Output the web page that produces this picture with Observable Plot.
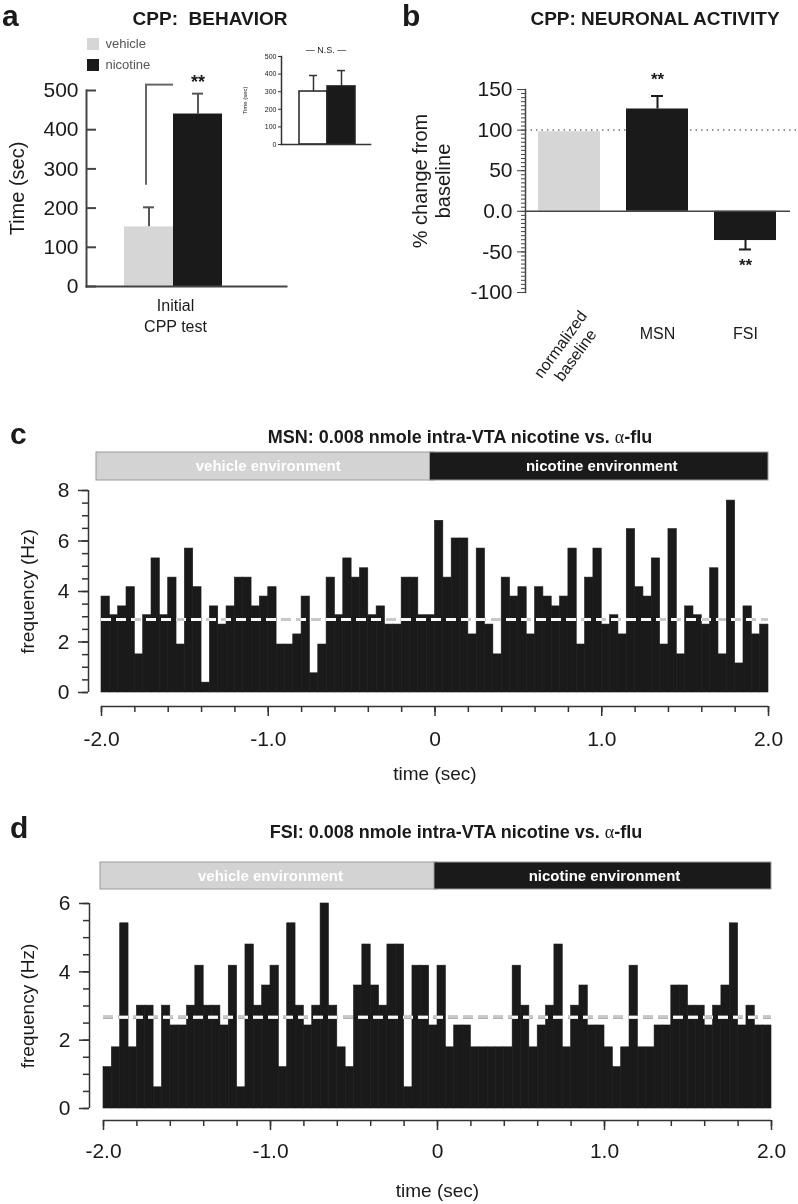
<!DOCTYPE html>
<html><head><meta charset="utf-8">
<script src="https://cdn.jsdelivr.net/npm/d3@7"></script>
<script src="https://cdn.jsdelivr.net/npm/@observablehq/plot@0.6"></script>
<style>
body{margin:0;background:#fff;}
#fig{position:relative;width:798px;height:1204px;overflow:hidden;font-family:"Liberation Sans",Arial,Helvetica,sans-serif;color:#1a1a1a;}
.lbl{position:absolute;white-space:nowrap;line-height:1.2;}
</style></head><body><div id="fig"></div>
<script>
// ---------- data ----------
const cppGroups = ["vehicle", "nicotine"];
const cppColors = ["#d6d6d6", "#1a1a1a"];
const cppMean = [152, 440];
const cppSem = [50, 52];
const cppTicks = [0, 100, 200, 300, 400, 500];
const bracketY = [258, 515];
const insetMean = [301, 330];
const insetSem = [91, 90];
const insetColors = ["#ffffff", "#1a1a1a"];
const insetTicks = [0, 100, 200, 300, 400, 500];

const cells = ["normalized baseline", "MSN", "FSI"];
const cellColors = ["#d6d6d6", "#1a1a1a", "#1a1a1a"];
const activityMean = [98, 126, -36];
const activityErr = [0, 16, 11];
const activitySig = ["", "**", "**"];
const activityTicks = [-100, -50, 0, 50, 100, 150];

const timeDomain = [-2, 2];
const binSize = 0.05;
const timeTicks = [-2, -1, 0, 1, 2];
const envLabels = ["vehicle environment", "nicotine environment"];
const envStart = [-2, 0];
const envEnd = [0, 2];
const envColors = ["#d3d3d3", "#1a1a1a"];

const msnRate = [
  3.80, 3.06, 3.41, 4.17, 1.51, 3.06, 5.31, 3.06, 4.55, 1.90,
  5.70, 4.17, 0.39, 3.41, 2.69, 3.41, 4.55, 4.55, 3.41, 3.80,
  4.17, 1.90, 1.90, 2.30, 3.80, 0.76, 1.90, 4.55, 3.06, 5.31,
  4.55, 4.92, 3.06, 3.41, 2.69, 2.69, 4.55, 4.55, 3.06, 3.06,
  6.80, 4.55, 6.10, 6.10, 2.30, 5.70, 2.69, 1.51, 4.55, 3.80,
  4.17, 2.30, 4.17, 3.80, 3.41, 3.80, 5.70, 1.90, 4.55, 5.70,
  2.69, 3.06, 2.30, 6.47, 4.17, 3.80, 5.31, 1.90, 6.47, 1.51,
  3.41, 3.06, 2.69, 4.92, 1.51, 7.60, 1.15, 3.41, 2.30, 2.69
];
const msnBaseline = 2.89;
const msnYTicks = [0, 2, 4, 6, 8];

const fsiRate = [
  1.21, 1.79, 5.42, 1.79, 3.01, 3.01, 0.62, 3.01, 2.43, 2.43,
  3.01, 4.18, 3.01, 3.01, 2.43, 4.18, 0.62, 4.80, 3.01, 3.60,
  4.18, 1.21, 5.42, 3.01, 2.43, 3.01, 6.00, 3.01, 1.79, 1.21,
  3.60, 4.80, 3.60, 3.01, 4.80, 4.80, 0.62, 4.18, 4.18, 2.43,
  4.18, 1.79, 2.43, 2.43, 1.79, 1.79, 1.79, 1.79, 1.79, 4.18,
  3.01, 1.79, 2.43, 3.01, 4.80, 1.79, 3.01, 3.60, 2.43, 2.43,
  1.79, 1.21, 1.79, 4.18, 1.79, 1.79, 2.43, 2.43, 3.60, 3.60,
  3.01, 3.01, 2.43, 3.01, 3.60, 5.42, 2.43, 3.01, 2.43, 2.43
];
const fsiBaseline = 2.67;
const fsiYTicks = [0, 2, 4, 6];

// ---------- helpers ----------
const FONT = '"Liberation Sans", Arial, Helvetica, sans-serif';
const fig = document.getElementById("fig");
const baseStyle = {fontFamily: FONT, fontSize: "20px", color: "#1a1a1a", background: "none", overflow: "visible"};
const mid = {textAnchor: "middle", lineAnchor: "middle"};
function put(node, left, top) {
  node.style.position = "absolute";
  node.style.left = left + "px";
  node.style.top = top + "px";
  fig.appendChild(node);
  return node;
}
function text(html, left, top, css, center) {
  const d = document.createElement("div");
  d.className = "lbl";
  d.innerHTML = html;
  Object.assign(d.style, css || {});
  d.style.left = left + "px";
  d.style.top = top + "px";
  if (center) d.style.transform = "translate(-50%,-50%)";
  fig.appendChild(d);
  return d;
}

// ---------- panel letters & titles ----------
const letterCss = {fontSize: "30px", fontWeight: "bold", lineHeight: "30px"};
text("a", 2, 1, letterCss);
text("b", 402, 1, letterCss);
text("c", 10, 419, letterCss);
text("d", 10, 813, letterCss);
const titleCss = {fontSize: "19px", fontWeight: "bold"};
text("CPP:&nbsp; BEHAVIOR", 210, 19, titleCss, true);
text("CPP: NEURONAL ACTIVITY", 655, 19, titleCss, true);
const alpha = '<span style="font-family:\'Liberation Serif\',serif;font-weight:normal">α</span>';
text("MSN: 0.008 nmole intra-VTA nicotine vs. " + alpha + "-flu", 460, 438, {fontSize: "18px", fontWeight: "bold"}, true);
text("FSI: 0.008 nmole intra-VTA nicotine vs. " + alpha + "-flu", 456, 833, {fontSize: "18px", fontWeight: "bold"}, true);

// ---------- panel a ----------
const aRows = cppGroups.map((g, i) => ({group: g, mean: cppMean[i], end: cppMean[i] + cppSem[i]}));
put(Plot.plot({
  width: 400, height: 340, marginLeft: 86, marginRight: 114, marginTop: 90, marginBottom: 54,
  style: baseStyle,
  x: {type: "band", domain: cppGroups, range: [124, 222], padding: 0, axis: null, label: null},
  y: {domain: [0, 500], axis: null, label: null},
  color: {domain: cppGroups, range: cppColors},
  marks: [
    Plot.ruleX(aRows, {x: "group", y1: "mean", y2: "end", stroke: "#555", strokeWidth: 2}),
    Plot.tickY(aRows, {x: "group", y: "end", stroke: "#555", strokeWidth: 2, inset: 19}),
    Plot.barY(aRows, {x: "group", y: "mean", fill: "group"}),
    Plot.ruleX([cppGroups[0]], {x: d => d, y1: bracketY[0], y2: bracketY[1], dx: -3, stroke: "#666", strokeWidth: 2}),
    Plot.ruleY([bracketY[1]], {x1: () => cppGroups[0], x2: () => cppGroups[0], dx: -3, insetLeft: 24, insetRight: -3, stroke: "#666", strokeWidth: 2}),
    Plot.text(aRows.slice(1), {x: "group", y: d => d.end + 30, text: () => "**", fontSize: 18, fontWeight: "bold"}),
    Plot.frame({anchor: "left", stroke: "#444", strokeWidth: 2}),
    Plot.frame({anchor: "bottom", stroke: "#444", strokeWidth: 2}),
    Plot.axisY(cppTicks, {label: null, tickSize: -10, tickPadding: 18, fontSize: 21, stroke: "#444", strokeWidth: 2}),
    Plot.text(["Time (sec)"], {...mid, frameAnchor: "left", rotate: -90, dx: -69, fontSize: 20}),
    Plot.text(["Initial\nCPP test"], {...mid, frameAnchor: "bottom", dx: -11, dy: 28, lineHeight: 1.35, fontSize: 16})
  ]
}), 0, 0);

// legend
const leg = Plot.legend({color: {type: "ordinal", domain: cppGroups, range: cppColors}, columns: 1, swatchSize: 12});
leg.style.fontSize = "13px";
leg.style.fontFamily = FONT;
leg.style.color = "#555";
leg.style.lineHeight = "20px";
leg.style.margin = "0";
put(leg, 87, 34);

// inset
const insetRows = cppGroups.map((g, i) => ({group: g, mean: insetMean[i], end: insetMean[i] + insetSem[i], fill: insetColors[i]}));
put(Plot.plot({
  width: 170, height: 120, marginLeft: 51, marginRight: 30, marginTop: 16, marginBottom: 16,
  style: {...baseStyle, fontSize: "7px"},
  x: {type: "band", domain: cppGroups, range: [68, 125], padding: 0, axis: null, label: null},
  y: {domain: [0, 500], axis: null, label: null},
  color: {type: "identity"},
  marks: [
    Plot.ruleX(insetRows, {x: "group", y1: "mean", y2: "end", stroke: "#333", strokeWidth: 1.5}),
    Plot.tickY(insetRows, {x: "group", y: "end", stroke: "#333", strokeWidth: 1.5, inset: 10}),
    Plot.barY(insetRows, {x: "group", y: "mean", fill: "fill", stroke: "#222", strokeWidth: 1.5}),
    Plot.frame({anchor: "left", stroke: "#333", strokeWidth: 1.5}),
    Plot.frame({anchor: "bottom", stroke: "#333", strokeWidth: 1.5}),
    Plot.axisY(insetTicks, {label: null, tickSize: 3, tickPadding: 2, fontSize: 7, stroke: "#333"}),
    Plot.text(["Time (sec)"], {...mid, frameAnchor: "left", rotate: -90, dx: -36, fontSize: 6}),
    Plot.text(["— N.S. —"], {...mid, frameAnchor: "top", dy: -6, fontSize: 9})
  ]
}), 230, 40);

// ---------- panel b ----------
const bRows = cells.map((c, i) => ({cell: c, mean: activityMean[i], end: activityMean[i] + Math.sign(activityMean[i]) * activityErr[i], sig: activitySig[i]}));
const bErr = bRows.filter((d, i) => activityErr[i] > 0);
put(Plot.plot({
  width: 398, height: 400, marginLeft: 125, marginRight: 8, marginTop: 89, marginBottom: 108,
  style: baseStyle,
  x: {type: "band", domain: cells, range: [138, 376], paddingInner: 0.3, paddingOuter: 0, axis: null, label: null},
  y: {domain: [-100, 150], axis: null, label: null},
  color: {domain: cells, range: cellColors},
  marks: [
    Plot.ruleY([100], {stroke: "#777", strokeWidth: 1.5, strokeDasharray: "1.5,4", insetRight: -8}),
    Plot.ruleX(bErr, {x: "cell", y1: "mean", y2: "end", stroke: "#1a1a1a", strokeWidth: 2}),
    Plot.tickY(bErr, {x: "cell", y: "end", stroke: "#1a1a1a", strokeWidth: 2, inset: 25}),
    Plot.barY(bRows, {x: "cell", y: "mean", fill: "cell"}),
    Plot.ruleY([0], {stroke: "#444", strokeWidth: 1.5}),
    Plot.text(bErr, {x: "cell", y: d => d.end + Math.sign(d.mean) * 20, text: "sig", fontSize: 17, fontWeight: "bold"}),
    Plot.frame({anchor: "left", stroke: "#444", strokeWidth: 1.5}),
    Plot.axisY(d3.ticks(-100, 150, 50), {label: null, tickSize: 4, tickFormat: () => "", stroke: "#444"}),
    Plot.axisY(activityTicks, {label: null, tickSize: 8, tickPadding: 5, fontSize: 21, stroke: "#444", tickFormat: d => d === 0 ? "0.0" : String(d)}),
    Plot.text(["% change from\nbaseline"], {...mid, frameAnchor: "left", rotate: -90, dx: -94, dy: -10, lineHeight: 1.15, fontSize: 20}),
    Plot.text(cells.slice(1), {...mid, x: d => d, frameAnchor: "bottom", dy: 41, fontSize: 16}),
    Plot.text(cells.slice(0, 1), {...mid, x: d => d, text: () => "normalized\nbaseline", frameAnchor: "bottom", rotate: -54, dx: -2, dy: 57, lineHeight: 1.15, fontSize: 16})
  ]
}), 400, 0);

// ---------- panels c & d ----------
const envRows = envLabels.map((l, i) => ({label: l, start: envStart[i], end: envEnd[i], fill: envColors[i]}));
function stripPlot(ml, mr, h, insetL) {
  return Plot.plot({
    width: 798, height: h, marginLeft: ml, marginRight: mr, marginTop: 0, marginBottom: 0,
    style: baseStyle,
    x: {domain: timeDomain, axis: null, label: null},
    color: {type: "identity"},
    marks: [
      Plot.rect(envRows, {x1: "start", x2: "end", fill: "fill", stroke: "#9a9a9a", strokeWidth: 1, insetLeft: insetL}),
      Plot.text(envRows, {...mid, x: d => (d.start + d.end) / 2, text: "label", fill: "white", fontWeight: "bold", fontSize: 15, frameAnchor: "middle"})
    ]
  });
}
function histPlot(rates, baseline, yTicks, o) {
  const rows = rates.map((r, i) => ({x1: timeDomain[0] + i * binSize, x2: timeDomain[0] + (i + 1) * binSize, rate: r}));
  const yMax = yTicks[yTicks.length - 1];
  return Plot.plot({
    width: 798, height: o.height, marginLeft: o.ml, marginRight: o.mr, marginTop: o.mt, marginBottom: o.mb,
    style: baseStyle,
    x: {domain: timeDomain, axis: null, label: null},
    y: {domain: [0, yMax], axis: null, label: null},
    marks: [
      Plot.rectY(rows, {x1: "x1", x2: "x2", y: "rate", fill: "#1a1a1a", stroke: "#1a1a1a", strokeWidth: 0.6}),
      Plot.ruleY([baseline], {stroke: "white", strokeWidth: 3, strokeDasharray: "10,5", mixBlendMode: "difference"}),
      Plot.ruleY([baseline], {stroke: "#c8c8c8", strokeWidth: 3, strokeDasharray: "10,5", mixBlendMode: "screen"}),
      Plot.ruleX([timeDomain[0]], {y1: 0, y2: yMax, dx: o.axDx, stroke: "#333", strokeWidth: 1.5}),
      Plot.axisY(d3.ticks(0, yMax, yMax * 2), {label: null, tickSize: 6, dx: o.axDx, tickFormat: () => "", stroke: "#333", strokeWidth: 1.5}),
      Plot.axisY(yTicks, {label: null, tickSize: 10, dx: o.axDx, tickPadding: 9, fontSize: 21, stroke: "#333", strokeWidth: 1.5}),
      Plot.ruleY([0], {x1: timeDomain[0], x2: timeDomain[1], dy: o.axDy, stroke: "#333", strokeWidth: 1.5}),
      Plot.axisX(d3.ticks(timeDomain[0], timeDomain[1], 20), {label: null, tickSize: 6, dy: o.axDy, tickFormat: () => "", stroke: "#333", strokeWidth: 1.5}),
      Plot.axisX(timeTicks, {label: null, tickSize: 10, dy: o.axDy, tickPadding: o.tp, fontSize: 21, stroke: "#333", strokeWidth: 1.5,
        tickFormat: d => d === 0 ? "0" : d.toFixed(1)}),
      Plot.text(["time (sec)"], {...mid, frameAnchor: "bottom", dy: o.xlab, fontSize: 19}),
      Plot.text(["frequency (Hz)"], {...mid, frameAnchor: "left", rotate: -90, dx: o.ylab, fontSize: 19})
    ]
  });
}
put(stripPlot(101, 30, 28, -5), 0, 452);
put(histPlot(msnRate, msnBaseline, msnYTicks, {height: 300, ml: 101, mr: 30, mt: 10, mb: 88, axDx: -13, axDy: 14, tp: 15, xlab: 81, ylab: -74}), 0, 480);
put(stripPlot(103, 27, 27, -3), 0, 862);
put(histPlot(fsiRate, fsiBaseline, fsiYTicks, {height: 310, ml: 103, mr: 27, mt: 13, mb: 92, axDx: -14, axDy: 12, tp: 13, xlab: 82, ylab: -76}), 0, 890);
</script></body></html>
